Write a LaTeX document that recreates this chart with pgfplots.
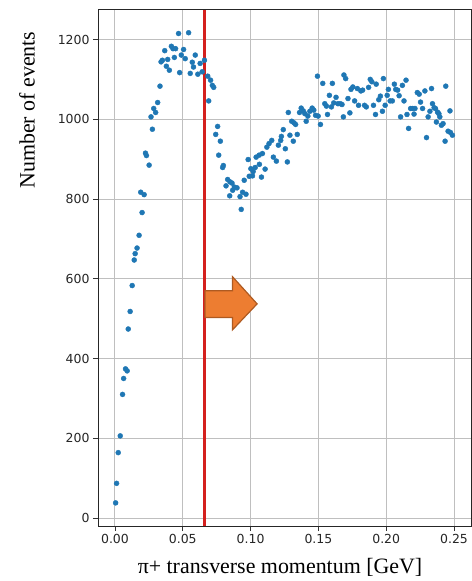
\documentclass[border=0pt]{standalone}
\usepackage{pgfplots}
\pgfplotsset{compat=1.18}
\usepackage{pgfplotstable}
\usepackage{fontspec}
\setmainfont{DejaVu Sans}
\newfontfamily\labelfont{Liberation Serif}

\definecolor{mplblue}{RGB}{31,119,180}
\definecolor{cutred}{RGB}{212,32,30}
\definecolor{arrowfill}{RGB}{237,125,49}
\definecolor{arrowedge}{RGB}{174,90,33}

% pi+ transverse momentum spectrum (GeV, events per bin)
\pgfplotstableread{
x y
0.0005 38
0.0012 87
0.0024 164
0.0039 206
0.0056 310
0.0064 350
0.0078 374
0.0090 369
0.0098 474
0.0112 518
0.0127 583
0.0142 647
0.0149 663
0.0163 677
0.0178 709
0.0190 817
0.0200 766
0.0215 811
0.0225 915
0.0232 909
0.0252 885
0.0266 1006
0.0276 975
0.0286 1027
0.0300 1017
0.0315 1042
0.0332 1083
0.0340 1144
0.0350 1148
0.0367 1172
0.0379 1133
0.0389 1150
0.0401 1123
0.0416 1183
0.0428 1177
0.0438 1155
0.0447 1177
0.0469 1215
0.0477 1117
0.0489 1161
0.0506 1175
0.0518 1152
0.0543 1217
0.0555 1115
0.0570 1143
0.0579 1131
0.0592 1161
0.0611 1113
0.0628 1140
0.0643 1119
0.0660 1148
0.0684 1108
0.0691 1046
0.0705 1098
0.0718 1085
0.0728 1080
0.0743 962
0.0757 982
0.0765 910
0.0777 945
0.0794 879
0.0799 884
0.0819 833
0.0831 849
0.0846 808
0.0848 843
0.0863 840
0.0868 822
0.0880 830
0.0900 828
0.0922 806
0.0931 774
0.0941 817
0.0953 847
0.0966 812
0.0982 899
0.0990 857
0.1002 876
0.1014 858
0.1019 869
0.1034 879
0.1041 905
0.1063 910
0.1065 887
0.1080 855
0.1087 914
0.1107 875
0.1120 930
0.1136 939
0.1156 947
0.1168 905
0.1190 895
0.1205 935
0.1222 947
0.1227 957
0.1241 974
0.1256 926
0.1271 893
0.1278 1017
0.1290 960
0.1303 995
0.1315 945
0.1320 991
0.1332 987
0.1344 962
0.1361 1017
0.1373 1028
0.1388 1021
0.1400 1014
0.1410 995
0.1422 1008
0.1437 1020
0.1454 1028
0.1466 1023
0.1479 1010
0.1493 1108
0.1498 1008
0.1515 987
0.1532 1090
0.1547 1039
0.1559 1033
0.1567 1012
0.1581 1060
0.1596 1031
0.1603 1090
0.1613 1041
0.1630 1055
0.1644 1039
0.1662 1039
0.1674 1037
0.1684 1006
0.1688 1111
0.1701 1102
0.1718 1052
0.1732 1016
0.1740 1075
0.1754 1081
0.1767 1046
0.1787 1077
0.1796 1035
0.1813 1071
0.1826 1073
0.1840 1035
0.1853 1031
0.1870 1080
0.1882 1100
0.1894 1094
0.1906 1035
0.1921 1012
0.1926 1088
0.1945 1049
0.1957 1058
0.1972 1020
0.1979 1102
0.1992 1035
0.2007 1060
0.2016 1075
0.2029 1046
0.2045 1046
0.2060 1088
0.2070 1075
0.2084 1073
0.2095 1059
0.2106 1006
0.2119 1085
0.2131 1046
0.2146 1098
0.2153 1012
0.2165 977
0.2180 1027
0.2194 1027
0.2205 1013
0.2212 1027
0.2229 1067
0.2243 1063
0.2253 1043
0.2268 1027
0.2285 1071
0.2297 954
0.2309 1006
0.2322 1020
0.2334 1077
0.2341 1039
0.2353 1029
0.2363 1027
0.2370 993
0.2378 1018
0.2388 1014
0.2395 1006
0.2407 985
0.2419 989
0.2434 945
0.2439 1083
0.2456 970
0.2470 1021
0.2473 967
0.2488 960
}\ptspectrum

\begin{document}
\begin{tikzpicture}
\useasboundingbox (0,0) rectangle (472bp,581bp);
\begin{axis}[
  at={(98bp,55bp)}, anchor=south west,
  scale only axis, width=373bp, height=516bp,
  xmin=-0.0125, xmax=0.2625, ymin=-20, ymax=1274,
  xtick={0,0.05,0.10,0.15,0.20,0.25},
  ytick={0,200,400,600,800,1000,1200},
  xticklabel style={/pgf/number format/.cd, fixed, fixed zerofill, precision=2},
  yticklabel style={/pgf/number format/.cd, fixed, 1000 sep={}},
  /pgf/number format/assume math mode=true,
  ticklabel style={font=\fontsize{12.5}{14}\selectfont, text=black!85},
  tick align=outside, major tick length=5bp,
  xtick pos=bottom, ytick pos=left,
  tick style={black!80, line width=0.9bp},
  axis line style={black!85, line width=1bp},
  grid=major, major grid style={gray!50, line width=1bp},
  xlabel={π+ transverse momentum [GeV]},
  ylabel={Number of events},
  xlabel style={font=\labelfont\fontsize{22}{24}\selectfont, at={(axis description cs:0.488,-0.081)}, anchor=center},
  ylabel style={font=\labelfont\fontsize{22}{24}\selectfont, at={(axis description cs:-0.19,0.806)}, anchor=center, rotate=0},
  clip=false,
]
\addplot[only marks, mark=*, mark size=2.5bp, mplblue, mark options={draw=mplblue, fill=mplblue}]
  table[x=x, y=y] {\ptspectrum};
% low-momentum cut
\draw[cutred, line width=2.6bp] (axis cs:0.066,-20) -- (axis cs:0.066,1274);
% block arrow pointing towards the kept region
\draw[arrowedge, fill=arrowfill, line width=1.2bp, line join=miter]
  (axis cs:0.0664,570) -- (axis cs:0.0867,570) -- (axis cs:0.0867,605)
  -- (axis cs:0.1048,537) -- (axis cs:0.0867,472) -- (axis cs:0.0867,503)
  -- (axis cs:0.0664,503) -- cycle;
\end{axis}
\end{tikzpicture}
\end{document}
